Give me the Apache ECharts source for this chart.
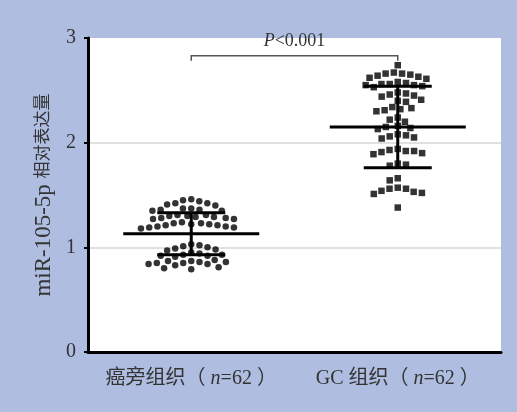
<!DOCTYPE html>
<html>
<head>
<meta charset="utf-8">
<script src="https://cdn.jsdelivr.net/npm/echarts@6/dist/echarts.min.js"></script>
<style>
html,body{margin:0;padding:0;background:#aebde0;}
#chart{width:517px;height:412px;}
</style>
</head>
<body>
<div id="chart"></div>
<script>
// ---------- data ----------
const categories = ['癌旁组织（n=62）', 'GC 组织（n=62）'];
const yTicks = [0, 1, 2, 3];
const yAxisTitle = ['miR-105-5p', '相对表达量'];
const normalValues = [
  1.46, 1.45, 1.44,
  1.42, 1.42, 1.41, 1.40,
  1.37, 1.37, 1.36, 1.36, 1.35, 1.35,
  1.31, 1.31, 1.30, 1.30, 1.29, 1.29, 1.28, 1.28, 1.27, 1.27,
  1.24, 1.23, 1.23, 1.22, 1.22, 1.21, 1.21, 1.20, 1.20, 1.19, 1.19, 1.18,
  1.03, 1.02, 1.01, 1.00, 0.99, 0.98, 0.97,
  0.95, 0.94, 0.93, 0.93, 0.92, 0.92, 0.91,
  0.88, 0.87, 0.87, 0.86, 0.86, 0.85, 0.85, 0.84, 0.84, 0.83,
  0.81, 0.80, 0.79
];
const gcValues = [
  2.74,
  2.67, 2.66, 2.66, 2.65, 2.64, 2.63, 2.62, 2.61,
  2.58, 2.57, 2.56, 2.56, 2.55, 2.55, 2.54, 2.53,
  2.48, 2.47, 2.46, 2.45, 2.44,
  2.41, 2.40, 2.39,
  2.34, 2.33, 2.32, 2.31, 2.30,
  2.24, 2.22, 2.20,
  2.16, 2.15, 2.14, 2.13,
  2.08, 2.07, 2.06, 2.05, 2.04,
  1.94, 1.93, 1.92, 1.92, 1.91, 1.90, 1.89,
  1.80, 1.79, 1.78,
  1.66, 1.64,
  1.57, 1.56, 1.56, 1.54, 1.53, 1.52, 1.51, 1.38
];
const groupMeans = [1.13, 2.15];
const groupSDs = [0.20, 0.39];
const bracketPair = [0, 1];
const bracketLevel = 2.83;
const pText = ['P', '<0.001'];

// ---------- chart ----------
const SERIF = "'Liberation Serif','Noto Sans CJK SC',serif";
const chart = echarts.init(document.getElementById('chart'), null, {renderer: 'canvas'});

function catLabel(val) {
  const m = val.match(/^(.*)（n=(\d+)）$/);
  if (!m) return '{c|' + val + '}';
  return '{c|' + m[1] + '（ }{i|n}{c|=' + m[2] + ' ）}';
}

const option = {
  backgroundColor: '#aebde0',
  animation: false,
  grid: {left: 88, right: 16, top: 38, bottom: 60, show: true, backgroundColor: '#ffffff', borderWidth: 0},
  xAxis: {
    type: 'category',
    data: categories,
    axisLine: {lineStyle: {color: '#000', width: 3}},
    axisTick: {alignWithLabel: true, length: 6, lineStyle: {color: '#000', width: 2}},
    axisLabel: {
      margin: 17,
      formatter: catLabel,
      rich: {
        c: {fontFamily: SERIF, fontSize: 20, color: '#333'},
        i: {fontFamily: SERIF, fontSize: 20, fontStyle: 'italic', color: '#333'}
      }
    },
    splitLine: {show: false}
  },
  yAxis: {
    type: 'value',
    min: yTicks[0], max: yTicks[yTicks.length - 1], interval: 1,
    name: '{a|' + yAxisTitle[0] + ' }{b|' + yAxisTitle[1] + '}',
    nameLocation: 'middle',
    nameGap: 32,
    nameRotate: 90,
    nameTextStyle: {
      color: '#333',
      rich: {
        a: {fontFamily: SERIF, fontSize: 23, color: '#333'},
        b: {fontFamily: SERIF, fontSize: 17, color: '#333'}
      }
    },
    axisLine: {show: true, lineStyle: {color: '#000', width: 3}},
    axisTick: {show: true, length: 4, lineStyle: {color: '#000', width: 2}},
    axisLabel: {margin: 12, fontFamily: SERIF, fontSize: 20, color: '#333'},
    splitLine: {show: true, lineStyle: {color: ['rgba(0,0,0,0)', '#d6d6d6', '#d6d6d6', 'rgba(0,0,0,0)'], width: 1.5}}
  },
  series: [
    {id: 'normal', type: 'scatter', symbol: 'circle', symbolSize: 6.5, itemStyle: {color: '#000'}, data: [], z: 3},
    {id: 'gc', type: 'scatter', symbol: 'rect', symbolSize: 6.5, itemStyle: {color: '#000'}, data: [], z: 3},
    {
      id: 'bars', type: 'custom', z: 4,
      encode: {x: 0, y: 1},
      data: groupMeans.map((m, i) => [i, m, groupSDs[i]]),
      renderItem: function (params, api) {
        const c = api.value(0), m = api.value(1), sd = api.value(2);
        const p = api.coord([c, m]);
        const t = api.coord([c, m + sd]);
        const b = api.coord([c, m - sd]);
        const st = {stroke: '#000', lineWidth: 3};
        return {type: 'group', children: [
          {type: 'line', shape: {x1: p[0] - 68, y1: p[1], x2: p[0] + 68, y2: p[1]}, style: st},
          {type: 'line', shape: {x1: t[0] - 34, y1: t[1], x2: t[0] + 34, y2: t[1]}, style: st},
          {type: 'line', shape: {x1: b[0] - 34, y1: b[1], x2: b[0] + 34, y2: b[1]}, style: st},
          {type: 'line', shape: {x1: p[0], y1: t[1], x2: p[0], y2: b[1]}, style: st}
        ]};
      }
    },
    {
      id: 'bracket', type: 'custom', z: 5,
      encode: {x: [0, 1], y: 2},
      data: [[bracketPair[0], bracketPair[1], bracketLevel]],
      renderItem: function (params, api) {
        const a = api.coord([api.value(0), api.value(2)]);
        const b = api.coord([api.value(1), api.value(2)]);
        return {type: 'group', children: [
          {type: 'polyline', shape: {points: [[a[0], a[1] + 5], a, b, [b[0], b[1] + 5]]},
           style: {stroke: '#555', lineWidth: 1.5, fill: null}},
          {type: 'text', style: {
            text: '{i|' + pText[0] + '}{n|' + pText[1] + '}',
            x: (a[0] + b[0]) / 2, y: a[1] - 15, align: 'center', verticalAlign: 'middle',
            rich: {
              i: {fontFamily: SERIF, fontSize: 18, fontStyle: 'italic', fill: '#333'},
              n: {fontFamily: SERIF, fontSize: 18, fill: '#333'}
            }
          }}
        ]};
      }
    }
  ]
};
chart.setOption(option);

// beeswarm layout in pixel space
function swarm(values, D) {
  const pts = values.map((v, i) => ({i, v, y: chart.convertToPixel({yAxisIndex: 0}, v)}));
  pts.sort((a, b) => b.v - a.v);
  const placed = [];
  const xs = new Array(values.length).fill(0);
  let flip = 1;
  pts.forEach(p => {
    const ints = [];
    placed.forEach(q => {
      const dy = Math.abs(q.y - p.y);
      if (dy < D) {
        const dx = Math.sqrt(D * D - dy * dy);
        ints.push([q.x - dx, q.x + dx]);
      }
    });
    const cands = [0];
    ints.forEach(r => cands.push(r[0], r[1]));
    cands.sort((a, b) => {
      const d = Math.abs(a) - Math.abs(b);
      if (Math.abs(d) > 1e-6) return d;
      return (b - a) * flip;
    });
    let x = 0;
    for (const c of cands) {
      if (ints.every(r => c <= r[0] + 1e-6 || c >= r[1] - 1e-6)) { x = c; break; }
    }
    flip = -flip;
    placed.push({x, y: p.y});
    xs[p.i] = x;
  });
  return xs;
}

const offN = swarm(normalValues, 8.3);
const offG = swarm(gcValues, 8.3);
chart.setOption({series: [
  {id: 'normal', data: normalValues.map((v, i) => ({value: [0, v], symbolOffset: [offN[i], 0]}))},
  {id: 'gc', data: gcValues.map((v, i) => ({value: [1, v], symbolOffset: [offG[i], 0]}))}
]});
</script>
</body>
</html>
